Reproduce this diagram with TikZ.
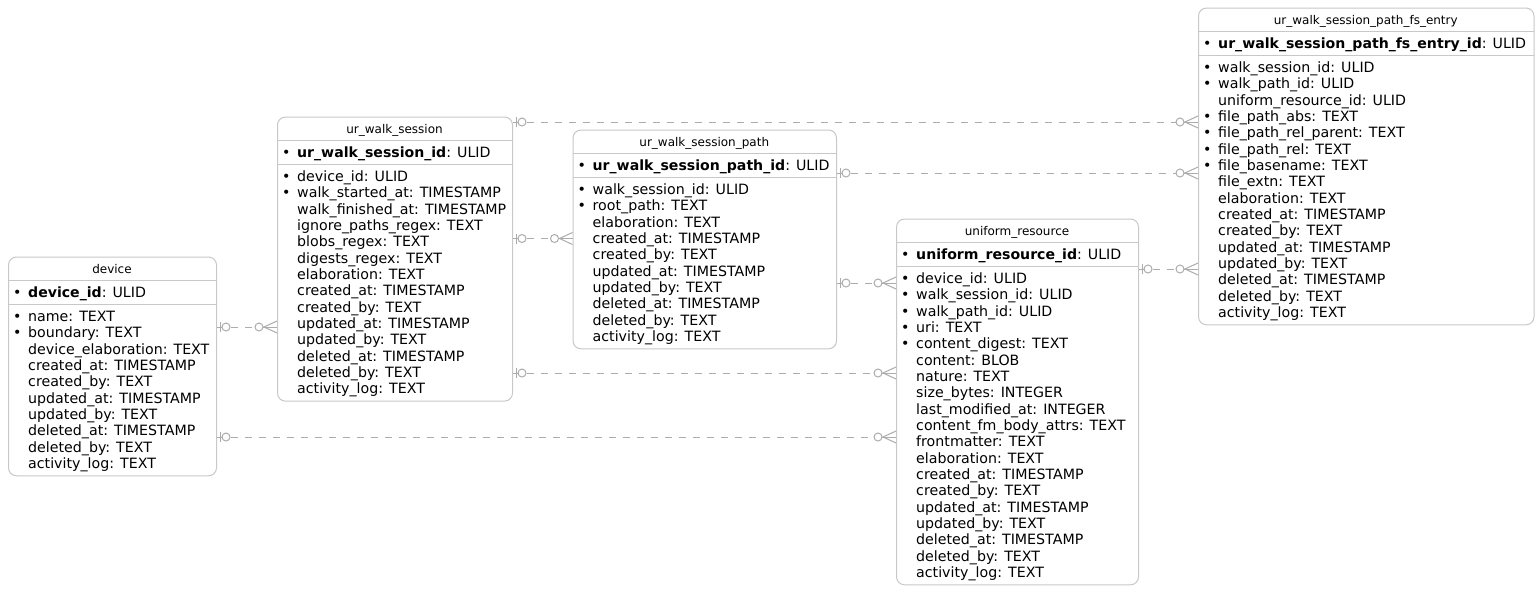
\documentclass[tikz,border=0pt]{standalone}
\usepackage{fontspec}
\setmainfont{DejaVu Sans}
\usetikzlibrary{calc}
\definecolor{linec}{RGB}{172,172,172}
\definecolor{boxc}{RGB}{200,200,200}
\newcommand\bul{\makebox[15pt][l]{•}}
\newcommand\nob{\hspace*{15pt}}
\newcommand\pkb[1]{{\fontsize{14.1}{16}\selectfont\bfseries #1}}
\tikzset{
  ent/.style={draw=boxc, line width=1pt, rounded corners=8pt, fill=white, anchor=north west, inner sep=0pt},
  sepl/.style={draw=boxc, line width=1pt},
  ttl/.style={font=\fontsize{12}{14}\selectfont, anchor=base, inner sep=0pt},
  fld/.style={font=\fontsize{14.2}{16}\selectfont, anchor=base west, inner sep=0pt},
  rel/.style={draw=linec, line width=1pt, dash pattern=on 7pt off 7pt},
  mk/.style={draw=linec, line width=1pt},
}
% #1 name, #2 left, #3 top, #4 right, #5 n fields, #6 title, #7 pk, #8 fields
\newcommand\entity[8]{%
  \node[ent, minimum width={(#4-#2)*1pt}, minimum height={(55.5+16.33*#5)*1pt}] (#1) at (#2,#3) {};
  \draw[sepl] (#2,#3+24) -- (#4,#3+24);
  \draw[sepl] (#2,#3+48) -- (#4,#3+48);
  \node[ttl] (#1-t) at ({(#2+#4)/2},#3+16.6) {#6};
  \node[fld] (#1-k) at (#2+5,#3+40.5) {\bul#7};
  \foreach \f [count=\i from 0] in {#8} {
    \node[fld] (#1-\i) at (#2+5,#3+65+16.33*\i) {\f};
  }
}
% #1 from, #2 to, #3 y
\newcommand\relation[3]{%
  \coordinate (r-#1-#2) at (0,#3);
  \coordinate (s-#1-#2) at (#1.east |- r-#1-#2);
  \coordinate (e-#1-#2) at (#2.west |- r-#1-#2);
  \draw[rel] (s-#1-#2) -- (e-#1-#2);
  \draw[mk] (s-#1-#2) -- ([xshift=6pt]s-#1-#2);
  \draw[mk] ([xshift=3pt,yshift=5pt]s-#1-#2) -- ([xshift=3pt,yshift=-5pt]s-#1-#2);
  \draw[mk,fill=white] ([xshift=9pt]s-#1-#2) circle[radius=4pt];
  \draw[mk,fill=white] ([xshift=-18pt]e-#1-#2) circle[radius=4pt];
  \draw[mk] ([xshift=-14pt]e-#1-#2) -- (e-#1-#2);
  \draw[mk] ([yshift=6pt]e-#1-#2) -- ([xshift=-13pt]e-#1-#2) -- ([yshift=-6pt]e-#1-#2);
}
\begin{document}
\begin{tikzpicture}[x=1pt,y=-1pt]
\useasboundingbox (0,0) rectangle (1539,590);
\fill[white] (0,0) rectangle (1539,590);

\entity{device}{8}{256.5}{216}{10}{device}{\pkb{device\_id}: ULID}{%
  \bul name: TEXT, \bul boundary: TEXT, \nob device\_elaboration: TEXT,
  \nob created\_at: TIMESTAMP, \nob created\_by: TEXT, \nob updated\_at: TIMESTAMP,
  \nob updated\_by: TEXT, \nob deleted\_at: TIMESTAMP, \nob deleted\_by: TEXT,
  \nob activity\_log: TEXT}

\entity{uws}{277}{116.5}{512}{14}{ur\_walk\_session}{\pkb{ur\_walk\_session\_id}: ULID}{%
  \bul device\_id: ULID, \bul walk\_started\_at: TIMESTAMP, \nob walk\_finished\_at: TIMESTAMP,
  \nob ignore\_paths\_regex: TEXT, \nob blobs\_regex: TEXT, \nob digests\_regex: TEXT,
  \nob elaboration: TEXT, \nob created\_at: TIMESTAMP, \nob created\_by: TEXT,
  \nob updated\_at: TIMESTAMP, \nob updated\_by: TEXT, \nob deleted\_at: TIMESTAMP,
  \nob deleted\_by: TEXT, \nob activity\_log: TEXT}

\entity{path}{572.5}{129.5}{836}{10}{ur\_walk\_session\_path}{\pkb{ur\_walk\_session\_path\_id}: ULID}{%
  \bul walk\_session\_id: ULID, \bul root\_path: TEXT, \nob elaboration: TEXT,
  \nob created\_at: TIMESTAMP, \nob created\_by: TEXT, \nob updated\_at: TIMESTAMP,
  \nob updated\_by: TEXT, \nob deleted\_at: TIMESTAMP, \nob deleted\_by: TEXT,
  \nob activity\_log: TEXT}

\entity{ures}{896}{218.5}{1138}{19}{uniform\_resource}{\pkb{uniform\_resource\_id}: ULID}{%
  \bul device\_id: ULID, \bul walk\_session\_id: ULID, \bul walk\_path\_id: ULID,
  \bul uri: TEXT, \bul content\_digest: TEXT, \nob content: BLOB, \nob nature: TEXT,
  \nob size\_bytes: INTEGER, \nob last\_modified\_at: INTEGER,
  \nob content\_fm\_body\_attrs: TEXT, \nob frontmatter: TEXT, \nob elaboration: TEXT,
  \nob created\_at: TIMESTAMP, \nob created\_by: TEXT, \nob updated\_at: TIMESTAMP,
  \nob updated\_by: TEXT, \nob deleted\_at: TIMESTAMP, \nob deleted\_by: TEXT,
  \nob activity\_log: TEXT}

\entity{fs}{1198}{7.5}{1533.5}{16}{ur\_walk\_session\_path\_fs\_entry}{\pkb{ur\_walk\_session\_path\_fs\_entry\_id}: ULID}{%
  \bul walk\_session\_id: ULID, \bul walk\_path\_id: ULID, \nob uniform\_resource\_id: ULID,
  \bul file\_path\_abs: TEXT, \bul file\_path\_rel\_parent: TEXT, \bul file\_path\_rel: TEXT,
  \bul file\_basename: TEXT, \nob file\_extn: TEXT, \nob elaboration: TEXT,
  \nob created\_at: TIMESTAMP, \nob created\_by: TEXT, \nob updated\_at: TIMESTAMP,
  \nob updated\_by: TEXT, \nob deleted\_at: TIMESTAMP, \nob deleted\_by: TEXT,
  \nob activity\_log: TEXT}

\relation{device}{uws}{327}
\relation{device}{ures}{437}
\relation{uws}{path}{238.5}
\relation{uws}{ures}{373}
\relation{uws}{fs}{122}
\relation{path}{fs}{173}
\relation{path}{ures}{283}
\relation{ures}{fs}{269}
\end{tikzpicture}
\end{document}
